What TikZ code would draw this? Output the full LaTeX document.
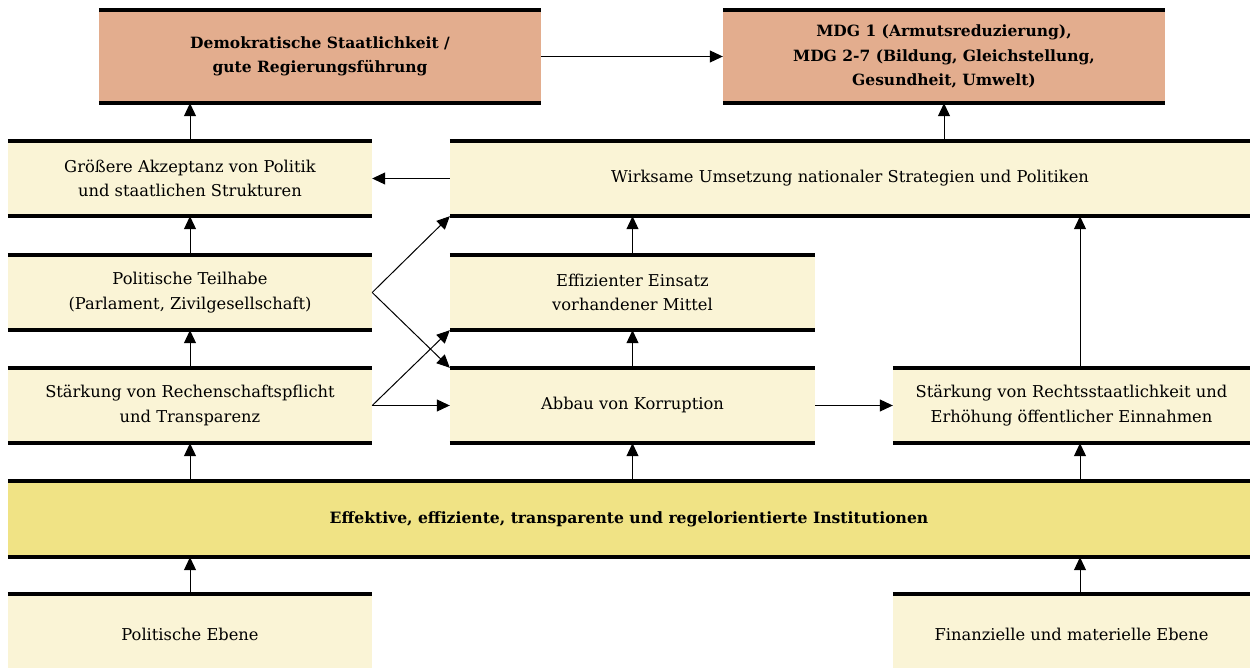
\documentclass[tikz,border=0pt]{standalone}
\usepackage{fontspec}
\setmainfont{DejaVu Serif}
\usetikzlibrary{arrows.meta,calc}
\definecolor{salmon}{HTML}{E3AD8E}
\definecolor{pale}{HTML}{FAF4D6}
\definecolor{inst}{HTML}{F0E385}
\begin{document}
\begin{tikzpicture}[x=1pt,y=-1pt,
  box/.style={fill=pale,draw=none,inner sep=0pt,align=center,font=\fontsize{16.3}{24.5}\selectfont,minimum height=75pt},
  goal/.style={box,fill=salmon,minimum height=93pt,font=\fontsize{15.5}{24.5}\selectfont\bfseries},
  bar/.style={line width=4pt},
  arr/.style={line width=1pt,-{Triangle[length=13pt,width=12pt]}}]
\useasboundingbox (0,0) rectangle (1250,668);
\node[goal,minimum width=442pt] (A) at (320,56.5) {Demokratische Staatlichkeit /\\gute Regierungsführung};
\node[goal,minimum width=442pt] (B) at (944,56.5) {MDG 1 (Armutsreduzierung),\\MDG 2-7 (Bildung, Gleichstellung,\\Gesundheit, Umwelt)};
\node[box,minimum width=364pt] (akz) at (190,178.5) {Größere Akzeptanz von Politik\\und staatlichen Strukturen};
\node[box,minimum width=800pt] (wirk) at (850,178.5) {Wirksame Umsetzung nationaler Strategien und Politiken};
\node[box,minimum width=364pt] (teil) at (190,292.5) {Politische Teilhabe\\(Parlament, Zivilgesellschaft)};
\node[box,minimum width=365pt] (eff) at (632.5,292.5) {Effizienter Einsatz\\vorhandener Mittel};
\node[box,minimum width=364pt] (rech) at (190,405.5) {Stärkung von Rechenschaftspflicht\\und Transparenz};
\node[box,minimum width=365pt] (abb) at (632.5,405.5) {Abbau von Korruption};
\node[box,minimum width=357pt] (rst) at (1071.5,405.5) {Stärkung von Rechtsstaatlichkeit und\\Erhöhung öffentlicher Einnahmen};
\node[box,fill=inst,minimum width=1242pt,minimum height=76pt,font=\fontsize{15.6}{24.5}\selectfont\bfseries] (ins) at (629,519) {Effektive, effiziente, transparente und regelorientierte Institutionen};
\node[box,minimum width=364pt,minimum height=80pt] (pol) at (190,634) {Politische Ebene};
\node[box,minimum width=357pt,minimum height=80pt] (fin) at (1071.5,634) {Finanzielle und materielle Ebene};
\coordinate (c) at (1080,0);
% bars
\foreach \n in {A,B,akz,wirk,teil,eff,rech,abb,rst,ins}{
  \draw[bar] (\n.north west) -- (\n.north east);
  \draw[bar] (\n.south west) -- (\n.south east);
}
\foreach \n in {pol,fin}{\draw[bar] (\n.north west) -- (\n.north east);}
% arrows
\draw[arr] (A.east) -- (B.west);
\draw[arr] (akz.north) -- (akz.north |- A.south);
\draw[arr] (B.south |- wirk.north) -- (B.south);
\draw[arr] (wirk.west) -- (akz.east);
\draw[arr] (teil.north) -- (akz.south);
\draw[arr] (rech.north) -- (teil.south);
\draw[arr] (rech.south |- ins.north) -- (rech.south);
\draw[arr] (pol.north) -- (pol.north |- ins.south);
\draw[arr] (eff.north) -- (eff.north |- wirk.south);
\draw[arr] (abb.north) -- (eff.south);
\draw[arr] (abb.south |- ins.north) -- (abb.south);
\draw[arr] (abb.east) -- (rst.west);
\draw[arr] (rst.north -| c) -- (wirk.south -| c);
\draw[arr] (ins.north -| c) -- (rst.south -| c);
\draw[arr] (fin.north -| c) -- (ins.south -| c);
\draw[arr] (teil.east) -- (wirk.south west);
\draw[arr] (teil.east) -- (abb.north west);
\draw[arr] (rech.east) -- (eff.south west);
\draw[arr] (rech.east) -- (abb.west);
\end{tikzpicture}
\end{document}
